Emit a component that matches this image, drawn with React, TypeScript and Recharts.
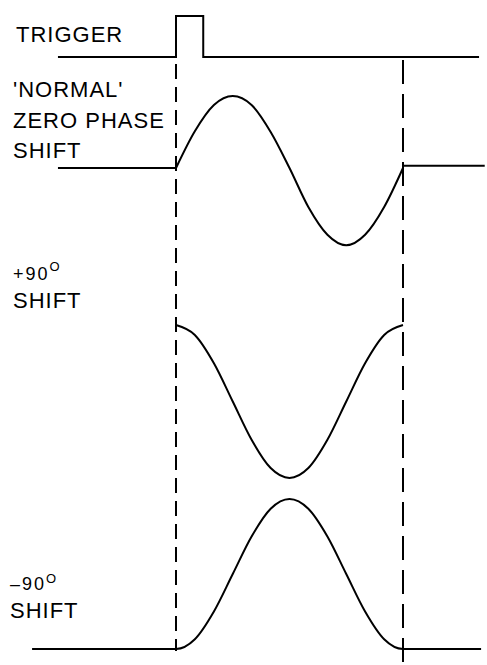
import { ComposedChart, Line, ReferenceLine, XAxis, YAxis } from 'recharts';

// time in units of one signal period, t = 0 at the trigger
const PERIOD_T = [0, 0.083, 0.167, 0.25, 0.333, 0.417, 0.5, 0.583, 0.667, 0.75, 0.833, 0.917, 1];

const TRIGGER_T = [-0.52, 0, 0, 0.12, 0.12, 1.335];
const TRIGGER_V = [0, 0, 1, 1, 0, 0];

const ZERO_LEAD_T = [-0.52, 0];
const ZERO_LEAD_V = [0, 0];
const ZERO_PHASE_V = [0, 0.49, 0.84, 0.96, 0.84, 0.48, 0, -0.52, -0.89, -1.03, -0.89, -0.52, 0];
const ZERO_TAIL_T = [1, 1.36];
const ZERO_TAIL_V = [0.03, 0.03];

const PLUS90_V = [1, 0.87, 0.5, 0, -0.5, -0.87, -1, -0.87, -0.5, 0, 0.5, 0.87, 1];

const MINUS90_LEAD_T = [-0.634];
const MINUS90_V = [-1, -0.87, -0.5, 0, 0.5, 0.87, 1, 0.87, 0.5, 0, -0.5, -0.87, -1];
const MINUS90_TAIL_T = [1.344];

const GUIDE_T = [0, 1];

const W = 487;
const H = 665;
const PX_PER_PERIOD = 227;
const T0_PX = 176;

const pts = (ts: number[], vs: number[]) => ts.map((t, i) => ({ t, v: vs[i] }));

const triggerData = pts(TRIGGER_T, TRIGGER_V);
const zeroLead = pts(ZERO_LEAD_T, ZERO_LEAD_V);
const zeroWave = pts(PERIOD_T, ZERO_PHASE_V);
const zeroTail = pts(ZERO_TAIL_T, ZERO_TAIL_V);
const plus90 = pts(PERIOD_T, PLUS90_V);
const minus90 = [
  ...pts(MINUS90_LEAD_T, [-1]),
  ...pts(PERIOD_T, MINUS90_V),
  ...pts(MINUS90_TAIL_T, [-1])
];

// each trace gets its own hidden y axis: centre row (px) and px per unit
const rowDomain = (centre: number, amp: number): [number, number] => [(centre - H) / amp, centre / amp];

const xMin = -T0_PX / PX_PER_PERIOD;
const xMax = xMin + W / PX_PER_PERIOD;

const lineProps = {
  dataKey: 'v',
  stroke: '#000',
  strokeWidth: 2,
  dot: false,
  activeDot: false,
  isAnimationActive: false
} as const;

const font = { fontFamily: '"Liberation Sans", Arial, sans-serif', fill: '#000', letterSpacing: 1 };

const Labels = () => (
  <svg width={W} height={H} style={{ position: 'absolute', left: 0, top: 0, pointerEvents: 'none' }}>
    <g style={font} fontSize={22}>
      <text x={16} y={42}>TRIGGER</text>
      <text x={13} y={97}>'NORMAL'</text>
      <text x={13} y={128}>ZERO PHASE</text>
      <text x={13} y={158}>SHIFT</text>
      <text x={13} y={280} fontSize={18} letterSpacing={2}>
        +90<tspan fontSize={13} dy={-9}>O</tspan>
      </text>
      <text x={13} y={308}>SHIFT</text>
      <text x={10} y={590} fontSize={18} letterSpacing={2}>
        –90<tspan fontSize={13} dy={-7}>O</tspan>
      </text>
      <text x={10} y={618}>SHIFT</text>
    </g>
  </svg>
);

export default function App() {
  return (
    <div style={{ position: 'absolute', left: 0, top: 0, width: W, height: H, background: '#fff' }}>
      <ComposedChart width={W} height={H} margin={{ top: 0, right: 0, bottom: 0, left: 0 }}>
        <XAxis type="number" dataKey="t" domain={[xMin, xMax]} allowDataOverflow hide />
        <YAxis yAxisId="trigger" type="number" domain={rowDomain(57, 41)} allowDataOverflow hide />
        <YAxis yAxisId="zero" type="number" domain={rowDomain(168, 75)} allowDataOverflow hide />
        <YAxis yAxisId="plus" type="number" domain={rowDomain(401.5, 76.5)} allowDataOverflow hide />
        <YAxis yAxisId="minus" type="number" domain={rowDomain(574, 75)} allowDataOverflow hide />
        <YAxis yAxisId="frame" type="number" domain={[0, H]} reversed allowDataOverflow hide />

        <Line yAxisId="trigger" data={triggerData} type="linear" {...lineProps} />
        <Line yAxisId="zero" data={zeroLead} type="linear" {...lineProps} />
        <Line yAxisId="zero" data={zeroWave} type="monotone" {...lineProps} />
        <Line yAxisId="zero" data={zeroTail} type="linear" {...lineProps} />
        <Line yAxisId="plus" data={plus90} type="monotone" {...lineProps} />
        <Line yAxisId="minus" data={minus90} type="monotone" {...lineProps} />

        <ReferenceLine
          yAxisId="frame"
          segment={[{ x: GUIDE_T[0], y: 64 }, { x: GUIDE_T[0], y: 651 }]}
          stroke="#000"
          strokeWidth={2}
          strokeDasharray="15 8"
        />
        <ReferenceLine
          yAxisId="frame"
          segment={[{ x: GUIDE_T[1], y: 60 }, { x: GUIDE_T[1], y: 663 }]}
          stroke="#000"
          strokeWidth={2}
          strokeDasharray="24 10"
        />
      </ComposedChart>
      <Labels />
    </div>
  );
}
